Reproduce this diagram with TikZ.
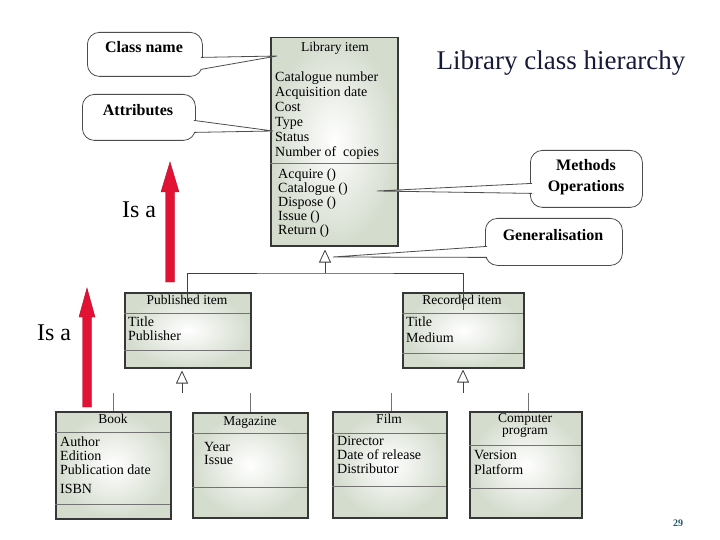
\documentclass[tikz,border=0pt]{standalone}
\usepackage{fontspec}
\setmainfont{Liberation Serif}
\usepackage{xcolor}
\usepackage{tikz}
\usetikzlibrary{arrows.meta,positioning}

\definecolor{umlfill}{RGB}{212,220,206}
\definecolor{umledge}{RGB}{55,55,55}
\definecolor{isared}{RGB}{226,18,52}
\definecolor{titleblue}{RGB}{22,26,58}
\definecolor{pagenum}{RGB}{30,90,105}

\begin{document}
\begin{tikzpicture}[
    x=1pt, y=-1pt,
    classbox/.style={rectangle, draw=umledge, line width=1.5pt, inner color=white, outer color=umlfill, anchor=north west},
    classname/.style={font=\fontsize{13.5}{15}\selectfont, inner sep=0pt, align=center},
    members/.style={font=\fontsize{14}{14}\selectfont, inner sep=0pt, align=left, anchor=north west},
    sepline/.style={draw=black!55, line width=1pt},
    genline/.style={draw=black!75, line width=0.8pt},
    gentip/.style={-{Triangle[open, width=12pt, length=13pt]}},
    callout/.style={rectangle, draw=black!70, line width=0.8pt, rounded corners=12pt, anchor=north west},
    callouttext/.style={font=\fontsize{16}{21}\selectfont\bfseries, align=center, inner sep=0pt},
    pointer/.style={draw=black!70, line width=0.8pt, fill=white},
    isaarrow/.style={fill=isared, draw=isared!80!black, line width=0.4pt},
    isatext/.style={font=\fontsize{24}{28}\selectfont}
]
\fill[white] (0,0) rectangle (720,540);
\useasboundingbox (0,0) rectangle (720,540);

% title
\node[font=\fontsize{27}{32}\selectfont, text=titleblue, anchor=base] (title) at (561,70) {Library class hierarchy};

% library item
\node[classbox, minimum width=127pt, minimum height=208pt] (libitem) at (270,37) {};
\node[classname] (libname) at (335,48) {Library item};
\node[members, font=\fontsize{14}{15}\selectfont] (libattr) at (275,72) {Catalogue number\\Acquisition date\\Cost\\Type\\Status\\Number of\ \ copies};
\draw[sepline] (270,164) -- (397,164);
\node[members] (libops) at (278,169) {Acquire ()\\Catalogue ()\\Dispose ()\\Issue ()\\Return ()};

% published item
\node[classbox, minimum width=126pt, minimum height=75pt] (pubitem) at (124,292) {};
\node[classname] (pubname) at (187,300) {Published item};
\draw[sepline] (124,313) -- (250,313);
\draw[sepline] (124,350) -- (250,350);
\node[members] (pubattr) at (128,317) {Title\\Publisher};

% recorded item
\node[classbox, minimum width=121pt, minimum height=75pt] (recitem) at (402,292) {};
\node[classname] (recname) at (462,300) {Recorded item};
\draw[sepline] (402,313) -- (523,313);
\draw[sepline] (402,353) -- (523,353);
\node[members, font=\fontsize{14}{16}\selectfont] (recattr) at (406,317) {Title\\Medium};

% book
\node[classbox, minimum width=115pt, minimum height=107pt] (book) at (55,411) {};
\node[classname] (bookname) at (113,419) {Book};
\draw[sepline] (55,432) -- (170,432);
\draw[sepline] (55,504) -- (170,504);
\node[members] (bookattr) at (60,437) {Author\\Edition\\Publication date\\[5pt]ISBN};

% magazine
\node[classbox, minimum width=115pt, minimum height=105pt] (magazine) at (192,412) {};
\node[classname] (magname) at (250,422) {Magazine};
\draw[sepline] (192,433) -- (307,433);
\draw[sepline] (192,487) -- (307,487);
\node[members, font=\fontsize{14}{13}\selectfont] (magattr) at (204,442) {Year\\Issue};

% film
\node[classbox, minimum width=114pt, minimum height=106pt] (film) at (332,411) {};
\node[classname] (filmname) at (389,419) {Film};
\draw[sepline] (332,433) -- (446,433);
\draw[sepline] (332,486) -- (446,486);
\node[members] (filmattr) at (337,436) {Director\\Date of release\\Distributor};

% computer program
\node[classbox, minimum width=112pt, minimum height=106pt] (program) at (469,411) {};
\node[classname, font=\fontsize{13.5}{12}\selectfont] (progname) at (525,425) {Computer\\program};
\draw[sepline] (469,445) -- (581,445);
\draw[sepline] (469,488) -- (581,488);
\node[members, font=\fontsize{14}{15}\selectfont] (progattr) at (474,450) {Version\\Platform};

% generalisation
\coordinate (libjoin) at (325,273);
\draw[genline, gentip, shorten >=3pt] (libjoin) -- (libjoin |- libitem.south);
\draw[genline] ([yshift=-11pt]pubitem.north) |- (libjoin) -| ([yshift=-18pt]recitem.north);

\coordinate (pubdown) at (182,393);
\draw[genline, gentip, shorten >=2pt] (pubdown) -- (pubdown |- pubitem.south);
\coordinate (recdown) at (463,393);
\draw[genline, gentip, shorten >=1pt] (recdown) -- (recdown |- recitem.south);

\coordinate (bookup) at (113,393);
\coordinate (magup) at (250,393);
\coordinate (filmup) at (391,393);
\coordinate (progup) at (528,393);
\draw[genline, draw=black!55] (bookup) -- (bookup |- book.north);
\draw[genline, draw=black!55] (magup) -- (magup |- magazine.north);
\draw[genline, draw=black!55] (filmup) -- (filmup |- film.north);
\draw[genline, draw=black!55] (progup) -- (progup |- program.north);

% callouts
\node[callout, minimum width=115pt, minimum height=44pt] (namenote) at (87,32) {};
\node[callouttext] (namelabel) at (144,47) {Class name};
\coordinate (nametip) at (277,56);
\draw[pointer] ([xshift=-2pt, yshift=-3pt]namenote.east) -- (nametip) -- ([xshift=-2pt, yshift=-15pt]namenote.east);

\node[callout, minimum width=113pt, minimum height=46pt] (attrnote) at (82,94) {};
\node[callouttext] (attrlabel) at (138,110) {Attributes};
\coordinate (attrtip) at (273,131);
\draw[pointer] ([xshift=-2pt, yshift=-3pt]attrnote.east) -- (attrtip) -- ([xshift=-2pt, yshift=-15pt]attrnote.east);

\node[callout, minimum width=112pt, minimum height=57pt] (opsnote) at (530,150) {};
\node[callouttext] (opslabel) at (586,177) {Methods\\Operations};
\coordinate (opstip) at (377,191);
\draw[pointer] ([xshift=2pt, yshift=-4.5pt]opsnote.west) -- (opstip) -- ([xshift=2pt, yshift=-14.5pt]opsnote.west);

\node[callout, minimum width=137pt, minimum height=47pt] (gennote) at (485,218) {};
\node[callouttext] (genlabel) at (553,235) {Generalisation};
\coordinate (gentip) at (333,257);
\draw[pointer] ([xshift=2pt, yshift=-4.5pt]gennote.west) -- (gentip) -- ([xshift=2pt, yshift=-15.5pt]gennote.west);

% is-a arrows
\filldraw[isaarrow] (165.5,282) -- (165.5,192) -- (161,192) -- (170,162) -- (179,192) -- (174.5,192) -- (174.5,282) -- cycle;
\filldraw[isaarrow] (82.5,407) -- (82.5,317) -- (79,317) -- (87,288) -- (95,317) -- (91.5,317) -- (91.5,407) -- cycle;
\node[isatext] (isaupper) at (139,210) {Is a};
\node[isatext] (isalower) at (54,333) {Is a};

% page number
\node[font=\fontsize{10}{11}\selectfont\bfseries, text=pagenum] (pageno) at (678,523) {29};
\end{tikzpicture}
\end{document}
